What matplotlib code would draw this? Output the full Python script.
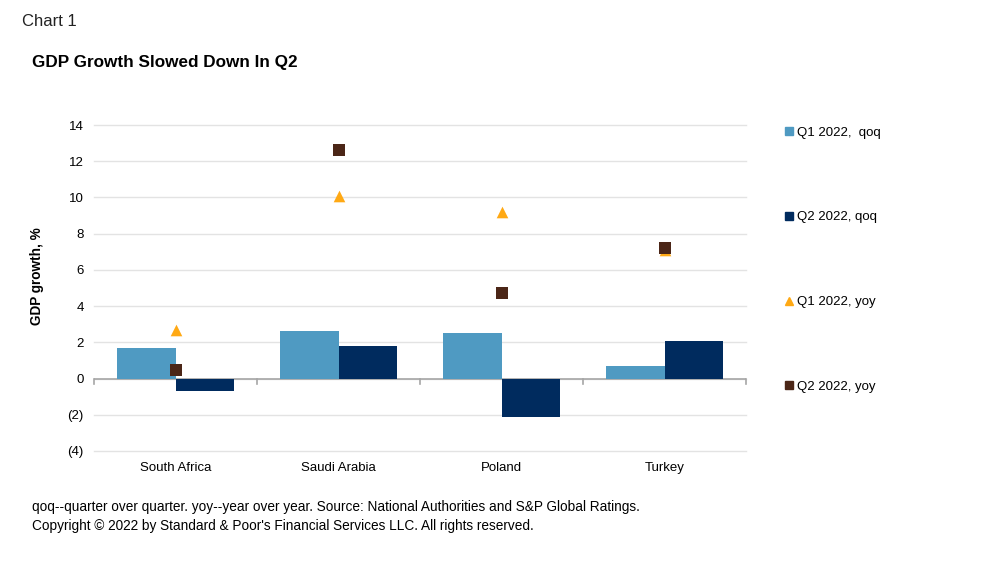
import matplotlib
matplotlib.use("Agg")
import matplotlib.pyplot as plt
import numpy as np
from matplotlib.lines import Line2D

plt.rcParams['font.family'] = ['Liberation Sans', 'DejaVu Sans']

categories = ["South Africa", "Saudi Arabia", "Poland", "Turkey"]
q1_qoq = [1.7, 2.6, 2.5, 0.7]
q2_qoq = [-0.7, 1.8, -2.1, 2.1]
q1_yoy = [2.7, 10.1, 9.2, 7.1]
q2_yoy = [0.5, 12.6, 4.7, 7.2]
yticks = [-4, -2, 0, 2, 4, 6, 8, 10, 12, 14]
ytick_labels = ["(4)", "(2)", "0", "2", "4", "6", "8", "10", "12", "14"]
series_labels = ["Q1 2022,  qoq", "Q2 2022, qoq", "Q1 2022, yoy", "Q2 2022, yoy"]

c_q1 = "#4F9AC2"
c_q2 = "#002B5E"
c_tri = "#FFA914"
c_sq = "#4B2617"

fig = plt.figure(figsize=(9.81, 5.70), dpi=100)
ax = fig.add_axes([94/981, 1-451/570, (746-94)/981, (451-125)/570])

x = np.arange(len(categories))
w = 0.356
ax.bar(x - w/2, q1_qoq, width=w, color=c_q1, zorder=2)
ax.bar(x + w/2, q2_qoq, width=w, color=c_q2, zorder=2)
ax.scatter(x, q1_yoy, marker="^", s=70, color=c_tri, zorder=3, linewidths=0)
ax.scatter(x, q2_yoy, marker="s", s=70, color=c_sq, zorder=4, linewidths=0)

ax.set_xlim(-0.5, len(categories) - 0.5)
ax.set_ylim(-4, 14)
ax.set_yticks(yticks)
ax.set_yticklabels(ytick_labels, fontsize=9.5)
ax.yaxis.grid(True, color="#E3E3E3", linewidth=1, zorder=0)
for gl in ax.get_ygridlines():
    gl.set_clip_on(False)
ax.set_axisbelow(True)
ax.tick_params(axis="y", length=0, pad=7.5)
for s in ax.spines.values():
    s.set_visible(False)
ax.axhline(0, color="#A6A6A6", linewidth=1.2, zorder=1)

ax.set_xticks(x)
ax.set_xticklabels(categories, fontsize=9.5)
ax.tick_params(axis="x", length=0, pad=8)
for b in np.arange(-0.5, len(categories), 1.0):
    ax.plot([b, b], [0, -0.3], color="#A6A6A6", linewidth=1.2, zorder=1, clip_on=False)

fig.text(37/981, 1-276/570, "GDP growth, %", fontsize=9.8, fontweight="bold",
         rotation=90, va="center", ha="center")

handles = [
    Line2D([], [], marker="s", linestyle="none", color=c_q1, markersize=6),
    Line2D([], [], marker="s", linestyle="none", color=c_q2, markersize=6),
    Line2D([], [], marker="^", linestyle="none", color=c_tri, markersize=6),
    Line2D([], [], marker="s", linestyle="none", color=c_sq, markersize=6),
]
fig.legend(handles, series_labels, loc="upper left", bbox_to_anchor=(780/981, 1-121/570),
           frameon=False, fontsize=9.5, handlelength=0.6, handletextpad=0.3,
           labelspacing=5.5, borderaxespad=0)

fig.text(22/981, 1-21/570, "Chart 1", fontsize=12, va="center", ha="left", color="#222222")
fig.text(32/981, 1-62/570, "GDP Growth Slowed Down In Q2", fontsize=12.3, fontweight="bold",
         va="center", ha="left")
fig.text(32/981, 1-507/570,
         "qoq--quarter over quarter. yoy--year over year. Source: National Authorities and S&P Global Ratings.",
         fontsize=9.8, va="center", ha="left")
fig.text(32/981, 1-526/570,
         "Copyright © 2022 by Standard & Poor's Financial Services LLC. All rights reserved.",
         fontsize=9.8, va="center", ha="left")

fig.savefig("out.png", dpi=100, facecolor="white")
